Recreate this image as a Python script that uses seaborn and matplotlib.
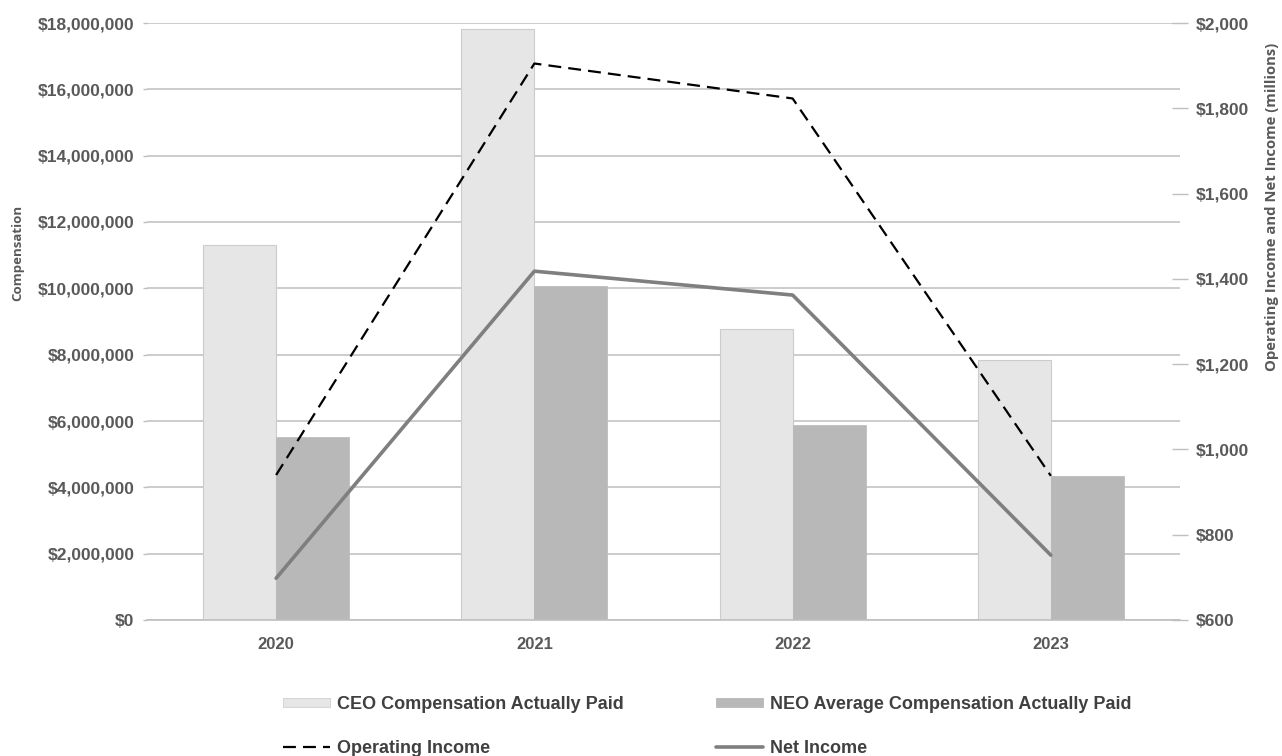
import numpy as np
import pandas as pd
import matplotlib
matplotlib.use("Agg")
import matplotlib.pyplot as plt
import seaborn as sns
from matplotlib.patches import Patch
from matplotlib.lines import Line2D
from matplotlib.ticker import FuncFormatter, MultipleLocator

# Compensation actually paid (USD) and company results (USD millions)
years = ["2020", "2021", "2022", "2023"]
ceo_cap = [11_310_000, 17_820_000, 8_760_000, 7_840_000]
neo_cap = [5_530_000, 10_080_000, 5_880_000, 4_340_000]
operating_income = [940, 1905, 1823, 938]
net_income = [698, 1418, 1362, 752]

bar_names = ["CEO Compensation Actually Paid", "NEO Average Compensation Actually Paid"]
line_names = ["Operating Income", "Net Income"]

sns.set_theme(style="white")
plt.rcParams["font.family"] = ["Liberation Sans", "DejaVu Sans"]

TEXT = "#595959"
GRID = "#bfbfbf"
CEO_COLOR = "#e6e6e6"
NEO_COLOR = "#b8b8b8"
NET_COLOR = "#7f7f7f"

comp = pd.DataFrame({
    "Year": years * 2,
    "Series": [bar_names[0]] * len(years) + [bar_names[1]] * len(years),
    "Value": ceo_cap + neo_cap,
})

W, H = 1282, 756
fig = plt.figure(figsize=(W / 100, H / 100), dpi=100)
ax = fig.add_axes([147 / W, 1 - 620 / H, (1180 - 147) / W, (620 - 23) / H])

sns.barplot(data=comp, x="Year", y="Value", hue="Series",
            palette=[CEO_COLOR, NEO_COLOR], width=0.566, gap=0,
            saturation=1, errorbar=None, legend=False, ax=ax)
for p in ax.containers[0]:
    p.set_edgecolor("#cccccc")
    p.set_linewidth(0.8)
for p in ax.containers[1]:
    p.set_edgecolor(NEO_COLOR)
    p.set_linewidth(0.5)

ax.set_xlim(-0.5, len(years) - 0.5)
ax.set_ylim(0, 18_000_000)
ax.yaxis.set_major_locator(MultipleLocator(2_000_000))
ax.yaxis.set_major_formatter(FuncFormatter(lambda v, _: f"${v:,.0f}"))
ax.set_axisbelow(True)
ax.yaxis.grid(True, color=GRID, linewidth=1.1)
ax.xaxis.grid(False)
ax.set_xlabel("")
ax.set_ylabel("")
for side in ["top", "left", "right"]:
    ax.spines[side].set_visible(False)
ax.spines["bottom"].set_color(GRID)
ax.spines["bottom"].set_linewidth(1.2)
ax.tick_params(axis="y", left=True, direction="out", length=3, width=1,
               color=GRID, pad=6, labelsize=12.5, labelcolor=TEXT)
ax.tick_params(axis="x", bottom=False, pad=6, labelsize=12, labelcolor=TEXT)
for lab in ax.get_xticklabels() + ax.get_yticklabels():
    lab.set_fontweight("bold")

# Income lines on the secondary axis
ax2 = ax.twinx()
xpos = np.arange(len(years))
sns.lineplot(x=xpos, y=operating_income, ax=ax2, color="black", linewidth=1.6)
sns.lineplot(x=xpos, y=net_income, ax=ax2, color=NET_COLOR, linewidth=2.6)
ax2.lines[0].set_dashes((5.8, 3.2))
ax2.lines[1].set_solid_capstyle("round")
ax2.set_ylim(600, 2000)
ax2.yaxis.set_major_locator(MultipleLocator(200))
ax2.yaxis.set_major_formatter(FuncFormatter(lambda v, _: f"${v:,.0f}"))
ax2.set_ylabel("")
for side in ["top", "left", "right", "bottom"]:
    ax2.spines[side].set_visible(False)
ax2.tick_params(axis="y", right=True, direction="inout", length=12, width=1,
                color=GRID, pad=5, labelsize=12.5, labelcolor=TEXT)
for lab in ax2.get_yticklabels():
    lab.set_fontweight("bold")

fig.text(18 / W, 1 - 253 / H, "Compensation", rotation=90, ha="center",
         va="center", fontsize=9.5, color=TEXT, family=["Open Sans", "DejaVu Sans"],
         fontweight="bold")
fig.text(1272 / W, 1 - 207 / H, "Operating Income and Net Income (millions)",
         rotation=90, ha="center", va="center", fontsize=10.7, color=TEXT,
         family=["Open Sans", "DejaVu Sans"], fontweight="bold")

handles = [
    Patch(facecolor=CEO_COLOR, edgecolor="#d0d0d0", linewidth=0.6),
    Line2D([0], [0], color="black", linewidth=1.6, dashes=(5.8, 3.2)),
    Patch(facecolor=NEO_COLOR, edgecolor=NEO_COLOR, linewidth=0.6),
    Line2D([0], [0], color=NET_COLOR, linewidth=2.6),
]
labels = [bar_names[0], line_names[0], bar_names[1], line_names[1]]
fig.legend(handles, labels, ncol=2, loc="upper left",
           bbox_to_anchor=(283 / W, 1 - 696 / H), frameon=False,
           prop={"size": 13, "weight": "bold"}, labelcolor="#404040",
           handlelength=2.6, handleheight=0.45, handletextpad=0.4,
           columnspacing=5.1, labelspacing=1.5, borderpad=0, borderaxespad=0)

fig.savefig("out.png", dpi=100)
